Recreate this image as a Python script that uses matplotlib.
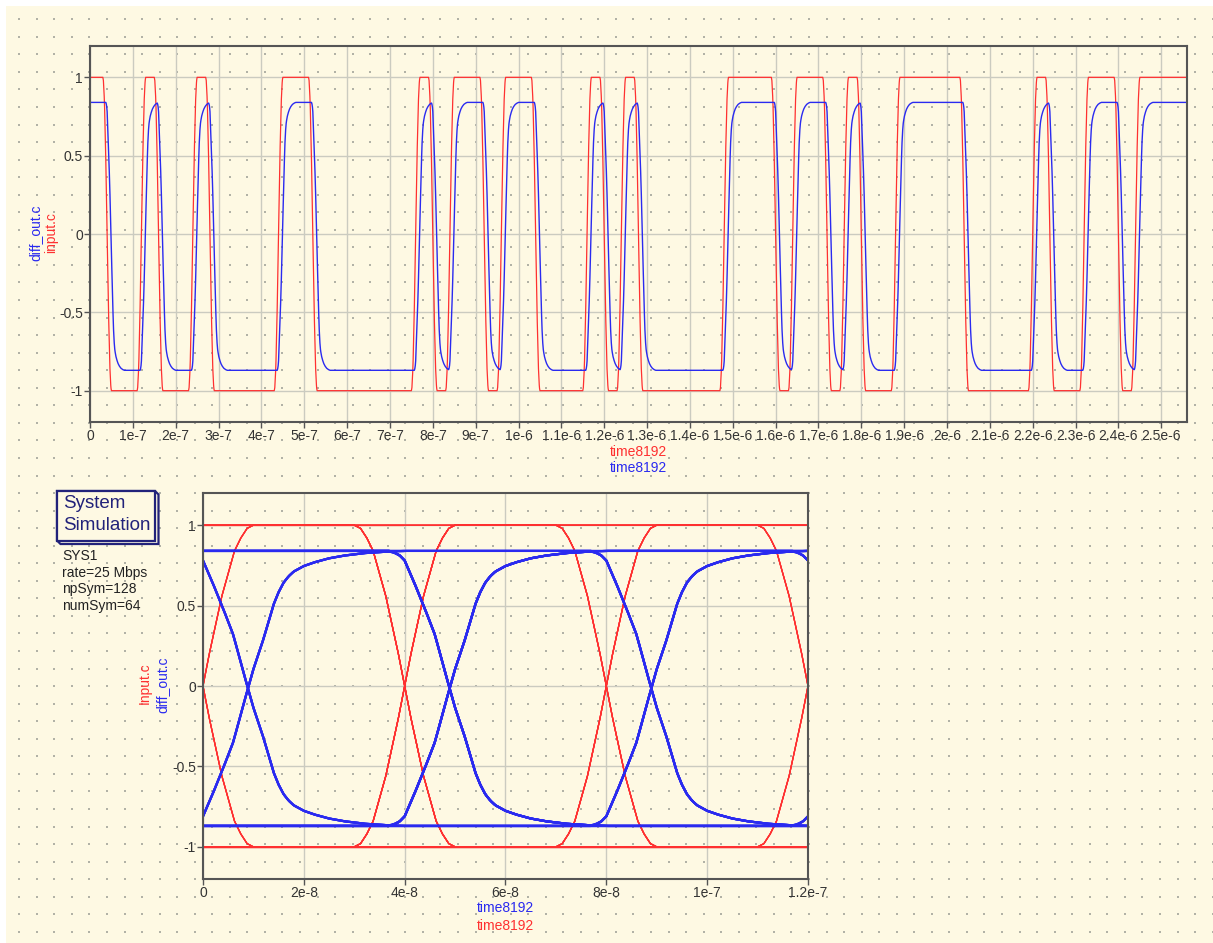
import numpy as np
import matplotlib.pyplot as plt
from matplotlib.patches import Rectangle, Polygon

plt.rcParams['font.family'] = ['Liberation Sans', 'DejaVu Sans']

W, H = 1213, 943

# input bit stream (64 symbols at 25 Mbps)
bits = [1, 0, 0, 1, 0, 0, 1, 0, 0, 0, 0, 1, 1, 0, 0, 0, 0, 0, 0, 1,
        0, 1, 1, 0, 1, 1, 0, 0, 0, 1, 0, 1, 0, 0, 0, 0, 0, 1, 1, 1,
        0, 1, 1, 0, 1, 0, 0, 1, 1, 1, 1, 0, 0, 0, 0, 1, 0, 0, 1, 1,
        0, 1, 1, 1]
rate = 25e6
np_sym = 128

# signal levels
input_hi, input_lo = 1.0, -1.0
out_hi, out_lo = 0.84, -0.87

# edge shapes (ns from symbol boundary, fraction of swing)
red_edge_ns = [-10, -8.75, -7.5, -6.25, -5, -3.75, -2.5, -1.25, 0,
               1.25, 2.5, 3.75, 5, 6.25, 7.5, 8.75, 10]
red_edge_frac = [0, 0.01, 0.04, 0.08, 0.15, 0.22, 0.31, 0.40, 0.5,
                 0.60, 0.69, 0.78, 0.85, 0.92, 0.96, 0.99, 1]
blue_edge_ns = [-3, -2, -1, 0, 2, 4, 6, 8, 10, 12, 14, 15, 16, 17, 18,
                20, 22, 25, 28, 32, 36, 40]
blue_edge_frac = [0, 0.006, 0.016, 0.035, 0.12, 0.21, 0.305, 0.44, 0.57, 0.68, 0.805,
                  0.85, 0.885, 0.908, 0.925, 0.945, 0.958, 0.973, 0.983, 0.992, 0.997, 1.0]

x_ticks_top = [i * 1e-7 for i in range(26)]
x_labels_top = ['0', '1e-7', '2e-7', '3e-7', '4e-7', '5e-7', '6e-7', '7e-7', '8e-7', '9e-7',
                '1e-6', '1.1e-6', '1.2e-6', '1.3e-6', '1.4e-6', '1.5e-6', '1.6e-6', '1.7e-6',
                '1.8e-6', '1.9e-6', '2e-6', '2.1e-6', '2.2e-6', '2.3e-6', '2.4e-6', '2.5e-6']
x_ticks_eye = [0, 2e-8, 4e-8, 6e-8, 8e-8, 1e-7, 1.2e-7]
x_labels_eye = ['0', '2e-8', '4e-8', '6e-8', '8e-8', '1e-7', '1.2e-7']
y_ticks = [-1, -0.5, 0, 0.5, 1]
y_labels = ['-1', '-0.5', '0', '0.5', '1']

RED = '#ff3030'
BLUE = '#2a2af0'
NAVY = '#22227a'
FRAME = '#555555'
GRID = '#cbcbc0'
CREAM = '#fef9e3'

T = 1.0 / rate
t = np.arange(len(bits) * np_sym) * T / np_sym


def build(levels, edge_ns, edge_frac):
    v = np.full(t.shape, float(levels[0]))
    for k in range(1, len(levels)):
        d = levels[k] - levels[k - 1]
        if d != 0:
            v += d * np.interp((t - k * T) * 1e9, edge_ns, edge_frac)
    return v


red = build([input_hi if b else input_lo for b in bits], red_edge_ns, red_edge_frac)
blue = build([out_hi if b else out_lo for b in bits], blue_edge_ns, blue_edge_frac)

fig = plt.figure(figsize=(W / 100, H / 100), dpi=100, facecolor='white')

# schematic background with dot grid
bg = fig.add_axes([0, 0, 1, 1], zorder=-10)
bg.set_xlim(0, W)
bg.set_ylim(H, 0)
bg.axis('off')
bg.add_patch(Rectangle((6, 6), W, H, color=CREAM, lw=0))
gx, gy = np.meshgrid(np.arange(19.2, W, 17.55), np.arange(19.2, H, 17.55))
bg.scatter(gx.ravel(), gy.ravel(), s=1.6, marker='s', color='#b2b2a6', linewidths=0)

# System Simulation block
bg.add_patch(Polygon([(57, 491), (155, 491), (158.5, 494.5), (158.5, 544), (60.5, 544), (57, 540.5)],
                     closed=True, facecolor=CREAM, edgecolor=NAVY, lw=1.6))
bg.add_patch(Rectangle((57, 491), 98, 49.5, facecolor=CREAM, edgecolor=NAVY, lw=1.6))
bg.text(63, 503, 'System', color=NAVY, fontsize=13.5, va='center', ha='left')
bg.text(63, 525, 'Simulation', color=NAVY, fontsize=13.5, va='center', ha='left')
for i, s in enumerate(['SYS1', 'rate=25 Mbps', 'npSym=128', 'numSym=64']):
    bg.text(62, 556 + i * 16.7, s, color='#222222', fontsize=10, va='center', ha='left')


def style(ax, xt, xl):
    ax.set_facecolor('none')
    ax.set_xticks(xt)
    ax.set_xticklabels(xl)
    ax.set_yticks(y_ticks)
    ax.set_yticklabels(y_labels)
    ax.set_ylim(-1.2, 1.2)
    ax.grid(True, color=GRID, lw=1.0)
    ax.set_axisbelow(True)
    for sp in ax.spines.values():
        sp.set_color(FRAME)
        sp.set_linewidth(1.5)
    ax.tick_params(direction='out', length=4, width=1, color=FRAME,
                   labelcolor='#333333', labelsize=10, pad=1)


# time domain plot
ax1 = fig.add_axes([90 / W, 1 - 422 / H, (1187 - 90) / W, (422 - 46) / H])
ax1.plot(t, red, color=RED, lw=0.9)
ax1.plot(t, blue, color=BLUE, lw=1.0)
ax1.set_xlim(0, len(bits) * T)
style(ax1, x_ticks_top, x_labels_top)

fig.text(35 / W, 1 - 233 / H, 'diff_out.c', rotation=90, color=BLUE, fontsize=10, ha='center', va='center')
fig.text(51 / W, 1 - 233 / H, 'input.c', rotation=90, color=RED, fontsize=10, ha='center', va='center')
fig.text(638 / W, 1 - 452 / H, 'time8192', color=RED, fontsize=10, ha='center', va='center')
fig.text(638 / W, 1 - 468 / H, 'time8192', color=BLUE, fontsize=10, ha='center', va='center')

# eye diagram, 3 symbols per trace
ax2 = fig.add_axes([203 / W, 1 - 879 / H, (808 - 203) / W, (879 - 493) / H])
span = 3 * np_sym
for j in range(0, len(t), span):
    seg = slice(j, min(j + span + 1, len(t)))
    ax2.plot(t[seg] - t[j], red[seg], color=RED, lw=0.9)
for j in range(0, len(t), span):
    seg = slice(j, min(j + span + 1, len(t)))
    ax2.plot(t[seg] - t[j], blue[seg], color=BLUE, lw=1.6)
ax2.set_xlim(0, 3 * T)
style(ax2, x_ticks_eye, x_labels_eye)

fig.text(145 / W, 1 - 683 / H, 'Input.c', rotation=90, color=RED, fontsize=10, ha='center', va='center')
fig.text(162 / W, 1 - 685 / H, 'diff_out.c', rotation=90, color=BLUE, fontsize=10, ha='center', va='center')
fig.text(505 / W, 1 - 908 / H, 'time8192', color=BLUE, fontsize=10, ha='center', va='center')
fig.text(505 / W, 1 - 926 / H, 'time8192', color=RED, fontsize=10, ha='center', va='center')

plt.savefig('out.png', dpi=100, facecolor=fig.get_facecolor())
